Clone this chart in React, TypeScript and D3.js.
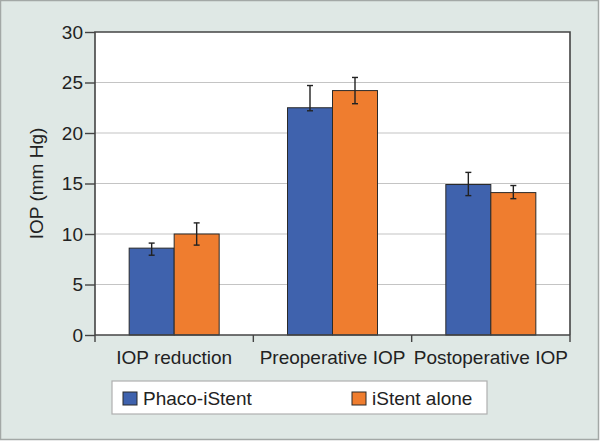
import { useEffect, useRef } from "react";
import * as d3 from "d3";

const categories = ["IOP reduction", "Preoperative IOP", "Postoperative IOP"];
const seriesNames = ["Phaco-iStent", "iStent alone"];
const seriesColors = ["#3f62ad", "#ef7d2f"];
// mean values
const phacoValues = [8.6, 22.5, 14.9];
const aloneValues = [10.0, 24.2, 14.1];
// error bar ends (low / high)
const phacoLow = [7.9, 22.2, 13.8];
const phacoHigh = [9.1, 24.7, 16.1];
const aloneLow = [8.9, 22.9, 13.5];
const aloneHigh = [11.1, 25.5, 14.8];
const yTicks = [0, 5, 10, 15, 20, 25, 30];

const App = () => {
  const svgRef = useRef<SVGSVGElement>(null);
  const width = 600;
  const height = 441;
  const margin = { top: 32, right: 30, bottom: 106, left: 95 };

  useEffect(() => {
    const svg = d3.select(svgRef.current);
    svg.selectAll("*").remove();

    const font = "'Liberation Sans', Arial, sans-serif";

    // outer panel
    svg
      .append("rect")
      .attr("x", 0.5)
      .attr("y", 0.5)
      .attr("width", width - 2)
      .attr("height", height - 2)
      .attr("fill", "#dfe8e5")
      .attr("stroke", "#a3a8a6")
      .attr("stroke-width", 1.5);

    const x0 = d3
      .scaleBand()
      .domain(categories)
      .range([margin.left, width - margin.right]);
    const groupWidth = 90;
    const x1 = d3.scaleBand().domain(seriesNames).range([0, groupWidth]);
    const y = d3
      .scaleLinear()
      .domain([0, 30])
      .range([height - margin.bottom, margin.top]);

    // plot area
    svg
      .append("rect")
      .attr("x", margin.left)
      .attr("y", margin.top)
      .attr("width", width - margin.left - margin.right)
      .attr("height", y(0) - margin.top)
      .attr("fill", "#fff");

    // gridlines
    svg
      .selectAll(".grid")
      .data(yTicks.filter((t) => t > 0 && t < 30))
      .enter()
      .append("line")
      .attr("x1", margin.left)
      .attr("x2", width - margin.right)
      .attr("y1", (d) => y(d))
      .attr("y2", (d) => y(d))
      .attr("stroke", "#c4c4c4")
      .attr("stroke-width", 1.2);

    const data = categories.map((c, i) => ({
      cat: c,
      vals: [
        { s: seriesNames[0], v: phacoValues[i], lo: phacoLow[i], hi: phacoHigh[i], c: seriesColors[0] },
        { s: seriesNames[1], v: aloneValues[i], lo: aloneLow[i], hi: aloneHigh[i], c: seriesColors[1] },
      ],
    }));

    const groups = svg
      .selectAll(".grp")
      .data(data)
      .enter()
      .append("g")
      .attr(
        "transform",
        (d) => `translate(${x0(d.cat)! + (x0.bandwidth() - groupWidth) / 2},0)`
      );

    groups
      .selectAll("rect")
      .data((d) => d.vals)
      .enter()
      .append("rect")
      .attr("x", (d) => x1(d.s)!)
      .attr("y", (d) => y(d.v))
      .attr("width", x1.bandwidth())
      .attr("height", (d) => y(0) - y(d.v))
      .attr("fill", (d) => d.c)
      .attr("stroke", "#2a2a2a")
      .attr("stroke-width", 1);

    // error bars
    const eb = groups
      .selectAll(".eb")
      .data((d) => d.vals)
      .enter()
      .append("g")
      .attr("stroke", "#222")
      .attr("stroke-width", 1.4);
    const cx = (d: any) => x1(d.s)! + x1.bandwidth() / 2;
    eb.append("line")
      .attr("x1", cx)
      .attr("x2", cx)
      .attr("y1", (d) => y(d.lo))
      .attr("y2", (d) => y(d.hi));
    eb.append("line")
      .attr("x1", (d) => cx(d) - 3)
      .attr("x2", (d) => cx(d) + 3)
      .attr("y1", (d) => y(d.lo))
      .attr("y2", (d) => y(d.lo));
    eb.append("line")
      .attr("x1", (d) => cx(d) - 3)
      .attr("x2", (d) => cx(d) + 3)
      .attr("y1", (d) => y(d.hi))
      .attr("y2", (d) => y(d.hi));

    // frame
    svg
      .append("path")
      .attr(
        "d",
        `M${margin.left},${y(0)}V${margin.top}H${width - margin.right}V${y(0)}`
      )
      .attr("fill", "none")
      .attr("stroke", "#444")
      .attr("stroke-width", 1.6);

    // y axis
    const yAxis = svg
      .append("g")
      .attr("transform", `translate(${margin.left},0)`)
      .call(d3.axisLeft(y).tickValues(yTicks).tickSize(10).tickPadding(2));
    yAxis.select(".domain").remove();
    yAxis.selectAll("line").attr("stroke", "#444").attr("stroke-width", 1.4);
    yAxis
      .selectAll("text")
      .attr("font-family", font)
      .attr("font-size", 19)
      .attr("fill", "#222");

    // x axis
    const boundaries = [...categories.map((c) => x0(c)!), width - margin.right];
    svg
      .append("line")
      .attr("x1", margin.left)
      .attr("x2", width - margin.right)
      .attr("y1", y(0))
      .attr("y2", y(0))
      .attr("stroke", "#444")
      .attr("stroke-width", 1.6);
    svg
      .selectAll(".xtick")
      .data(boundaries)
      .enter()
      .append("line")
      .attr("x1", (d) => d)
      .attr("x2", (d) => d)
      .attr("y1", y(0))
      .attr("y2", y(0) + 7)
      .attr("stroke", "#444")
      .attr("stroke-width", 1.4);
    svg
      .selectAll(".xlabel")
      .data(categories)
      .enter()
      .append("text")
      .attr("x", (d) => x0(d)! + x0.bandwidth() / 2)
      .attr("y", y(0) + 29)
      .attr("text-anchor", "middle")
      .attr("font-family", font)
      .attr("font-size", 19)
      .attr("fill", "#222")
      .text((d) => d);

    // y label
    svg
      .append("text")
      .attr("transform", `translate(43,${(margin.top + y(0)) / 2}) rotate(-90)`)
      .attr("text-anchor", "middle")
      .attr("font-family", font)
      .attr("font-size", 19)
      .attr("fill", "#222")
      .text("IOP (mm Hg)");

    // legend
    const lg = svg.append("g").attr("transform", "translate(112,381)");
    lg.append("rect")
      .attr("width", 375)
      .attr("height", 33)
      .attr("fill", "#fff")
      .attr("stroke", "#b0b0b0")
      .attr("stroke-width", 1.2);
    const items = lg
      .selectAll(".li")
      .data(seriesNames)
      .enter()
      .append("g")
      .attr("transform", (d, i) => `translate(${i === 0 ? 11 : 240},0)`);
    items
      .append("rect")
      .attr("y", 11)
      .attr("width", 14)
      .attr("height", 13)
      .attr("fill", (d, i) => seriesColors[i])
      .attr("stroke", "#2a2a2a")
      .attr("stroke-width", 1);
    items
      .append("text")
      .attr("x", 20)
      .attr("y", 24)
      .attr("font-family", font)
      .attr("font-size", 19)
      .attr("fill", "#222")
      .text((d) => d);
  }, []);

  return (
    <svg
      ref={svgRef}
      width={width}
      height={height}
      style={{ position: "absolute", left: 0, top: 0 }}
    />
  );
};

export default App;
